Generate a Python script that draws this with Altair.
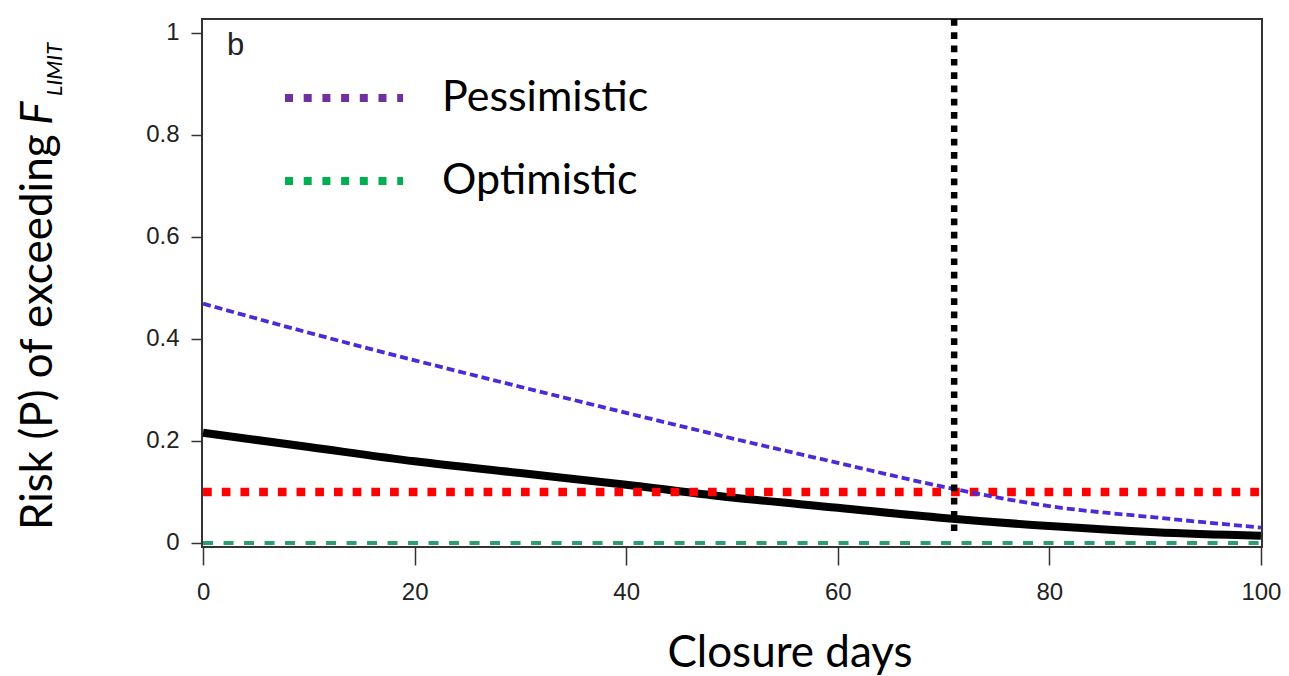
import altair as alt
import pandas as pd

# ---- data ----
days = [0, 10, 20, 30, 40, 50, 60, 70, 80, 90, 100]
base_risk = [0.216, 0.188, 0.160, 0.137, 0.114, 0.089, 0.069, 0.049, 0.033, 0.021, 0.014]
pess_risk = [0.469, 0.412, 0.358, 0.306, 0.255, 0.205, 0.157, 0.110, 0.072, 0.050, 0.030]
opt_days = [0, 100]
opt_risk = [0.0, 0.0]
risk_limit = 0.1
closure_threshold = 71
legend_names = ["Pessimistic", "Optimistic"]
legend_colors = ["#7030A0", "#00B050"]
x_ticks = [0, 20, 40, 60, 80, 100]
y_ticks = [0, 0.2, 0.4, 0.6, 0.8, 1]

x_domain = [-0.1, 100.1]
y_domain = [-0.008, 1.027]

W, H = 1060, 528
TICK_FONT = "Liberation Sans"
TITLE_FONT = "Lato"

xs = alt.Scale(domain=x_domain, nice=False, zero=False)
ys = alt.Scale(domain=y_domain, nice=False, zero=False)

x_axis = alt.Axis(values=x_ticks, title=None, format="d", grid=False, domain=False,
                  labelFont=TICK_FONT, labelFontSize=24, labelColor="#222",
                  tickSize=18, tickColor="#333", tickWidth=1.5, labelPadding=15)
y_axis = alt.Axis(values=y_ticks, title=None, format="~g", grid=False, domain=False,
                  labelFont=TICK_FONT, labelFontSize=24, labelColor="#222",
                  tickSize=11, tickColor="#333", tickWidth=1.5, labelPadding=12)

x_enc = alt.X("days:Q", scale=xs, axis=x_axis)
y_enc = alt.Y("risk:Q", scale=ys, axis=y_axis)

base_df = pd.DataFrame({"days": days, "risk": base_risk})
pess_df = pd.DataFrame({"days": days, "risk": pess_risk})
opt_df = pd.DataFrame({"days": opt_days, "risk": opt_risk})
limit_df = pd.DataFrame({"days": [days[0]], "days_end": [days[-1]], "risk": [risk_limit]})
vert_df = pd.DataFrame({"days": [closure_threshold], "risk": [y_domain[1]], "risk_end": [0.01]})
one = pd.DataFrame({"a": [0]})

opt_line = alt.Chart(opt_df).mark_line(color="#2e9e70", strokeWidth=4, strokeDash=[10, 10.5]).encode(x=x_enc, y=y_enc)
base_line = alt.Chart(base_df).mark_line(color="#000000", strokeWidth=8, interpolate="monotone").encode(x=x_enc, y=y_enc)
limit_rule = alt.Chart(limit_df).mark_rule(color="#ff0000", strokeWidth=8.5, strokeDash=[8.7, 10]).encode(
    x=x_enc, x2="days_end:Q", y=y_enc)
pess_line = alt.Chart(pess_df).mark_line(color="#4c2ad6", strokeWidth=3.8, strokeDash=[8, 4], interpolate="monotone").encode(x=x_enc, y=y_enc)
vert_rule = alt.Chart(vert_df).mark_rule(color="#000000", strokeWidth=6.5, strokeDash=[6.7, 6.6]).encode(
    x=x_enc, y=y_enc, y2="risk_end:Q")

layers = [opt_line, base_line, limit_rule, pess_line, vert_rule]

# legend (drawn inside the plot as in the reference)
for i, (name, col) in enumerate(zip(legend_names, legend_colors)):
    ly = 79 + i * 83
    layers.append(alt.Chart(one).mark_rule(color=col, strokeWidth=8, strokeDash=[8, 10.7]).encode(
        x=alt.value(83), x2=alt.value(201), y=alt.value(ly)))
    layers.append(alt.Chart(one).mark_text(text=name, font=TITLE_FONT, fontSize=43, align="left",
                                           baseline="middle", color="#000").encode(
        x=alt.value(240), y=alt.value(ly)))

# panel letter
layers.append(alt.Chart(one).mark_text(text="b", font=TICK_FONT, fontSize=31, align="left",
                                       baseline="alphabetic", color="#222").encode(
    x=alt.value(25), y=alt.value(36)))

# x title
layers.append(alt.Chart(one).mark_text(text="Closure days", font=TITLE_FONT, fontSize=44, align="center",
                                       baseline="alphabetic", color="#000").encode(
    x=alt.value(588), y=alt.value(648)))

# y title with italic F and subscript LIMIT
layers.append(alt.Chart(one).mark_text(text="Risk (P) of exceeding", font=TITLE_FONT, fontSize=44, angle=270,
                                       align="left", baseline="alphabetic", color="#000").encode(
    x=alt.value(-150), y=alt.value(511)))
layers.append(alt.Chart(one).mark_text(text="F", font=TITLE_FONT, fontSize=44, fontStyle="italic", angle=270,
                                       align="left", baseline="alphabetic", color="#000").encode(
    x=alt.value(-150), y=alt.value(106)))
layers.append(alt.Chart(one).mark_text(text="LIMIT", font=TITLE_FONT, fontSize=22, fontStyle="italic", angle=270,
                                       align="left", baseline="alphabetic", color="#000").encode(
    x=alt.value(-140), y=alt.value(77)))

chart = alt.layer(*layers).properties(
    width=W, height=H,
    autosize=alt.AutoSizeParams(type="none"),
    padding={"left": 194, "top": 11, "right": 19, "bottom": 130},
    background="white",
).configure_view(stroke="#333", strokeWidth=2)

chart.save("out.html", embed_options={"renderer": "svg", "actions": False})
